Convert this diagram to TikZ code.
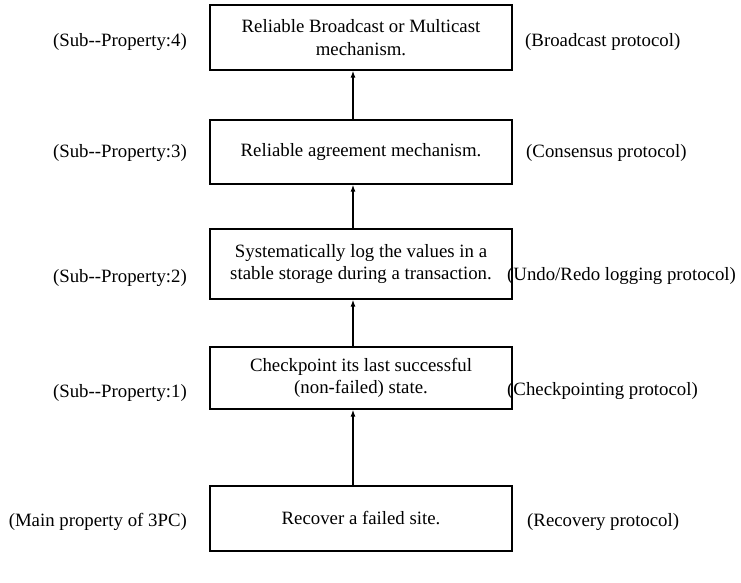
\documentclass[tikz,border=0pt]{standalone}
\usepackage{fontspec}
\setmainfont{Liberation Serif}
\usetikzlibrary{arrows.meta}
\begin{document}
\begin{tikzpicture}[x=1pt,y=1pt,
  txt/.style={font=\fontsize{18.8}{22.5}\selectfont},
  box/.style={txt, draw, line width=1.3pt, minimum width=302pt, inner sep=0pt, align=center},
  lbl/.style={txt, inner sep=0pt},
  up/.style={-{Latex[length=7pt,width=5pt]}, line width=1.3pt}]
\useasboundingbox (0,0) rectangle (741,582);

% property boxes, top to bottom
\node[box, minimum height=65pt] (b1) at (361,544.5) {Reliable Broadcast or Multicast\\mechanism.};
\node[box, minimum height=64pt] (b2) at (361,430) {Reliable agreement mechanism.};
\node[box, minimum height=70pt] (b3) at (361,318) {Systematically log the values in a\\stable storage during a transaction.};
\node[box, minimum height=62pt] (b4) at (361,204) {Checkpoint its last successful\\(non-failed) state.};
\node[box, minimum height=65pt] (b5) at (361,63.5) {\raisebox{-3pt}{Recover a failed site.}};

% property labels on the left
\node[lbl, anchor=east] (p4) at (187,540) {(Sub-{}-Property:4)};
\node[lbl, anchor=east] (p3) at (187,429) {(Sub-{}-Property:3)};
\node[lbl, anchor=east] (p2) at (187,304) {(Sub-{}-Property:2)};
\node[lbl, anchor=east] (p1) at (187,189) {(Sub-{}-Property:1)};
\node[lbl, anchor=east] (p0) at (187,60) {(Main property of 3PC)};

% protocol labels on the right
\node[lbl, anchor=west] (r4) at (525,540) {(Broadcast protocol)};
\node[lbl, anchor=west] (r3) at (526,429) {(Consensus protocol)};
\node[lbl, anchor=west] (r2) at (507,306) {(Undo/Redo logging protocol)};
\node[lbl, anchor=west] (r1) at (507,191) {(Checkpointing protocol)};
\node[lbl, anchor=west] (r0) at (527,60) {(Recovery protocol)};

% upward dependencies
\draw[up] ([xshift=-8pt]b5.north) -- ([xshift=-8pt]b4.south);
\draw[up] ([xshift=-8pt]b4.north) -- ([xshift=-8pt]b3.south);
\draw[up] ([xshift=-8pt]b3.north) -- ([xshift=-8pt]b2.south);
\draw[up] ([xshift=-8pt]b2.north) -- ([xshift=-8pt]b1.south);
\end{tikzpicture}
\end{document}
